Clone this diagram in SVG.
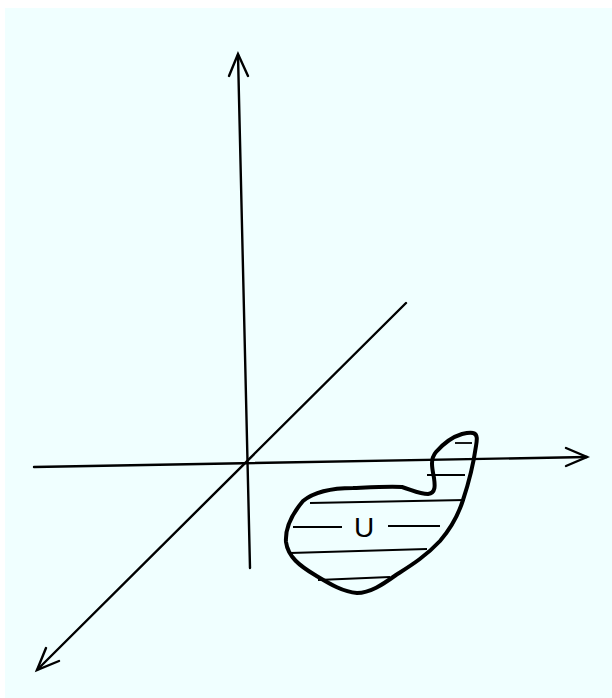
<svg xmlns="http://www.w3.org/2000/svg" width="612" height="698" viewBox="0 0 612 698">
<style>
.ax{stroke:#000;stroke-width:2.4;fill:none;stroke-linecap:round}
.hd{stroke:#000;stroke-width:2.4;fill:none;stroke-linecap:round;stroke-linejoin:miter}
.ht{stroke:#000;stroke-width:1.8;fill:none}
.bl{stroke:#000;stroke-width:4;fill:none;stroke-linejoin:round}
.lb{font-family:"Liberation Sans",Arial,sans-serif;font-size:28px;fill:#000}
</style>
<rect x="5" y="8" width="607" height="690" fill="#f0ffff"/>
<g id="connectors">
<path class="ax" d="M250 568 L238 55"/>
<path class="hd" d="M229 76 L238 54 L248 76"/>
<path class="ax" d="M34 467 L587 457"/>
<path class="hd" d="M566 448 L587 457 L566 466"/>
<path class="ax" d="M406 303 L37 670"/>
<path class="hd" d="M46 648 L37 670 L59 661"/>
</g>
<g id="U">
<path class="ht" d="M455 443 L472 443"/>
<path class="ht" d="M427 475 L465 475"/>
<path class="ht" d="M310 503 L465 500"/>
<path class="ht" d="M293 527 L342 527"/>
<path class="ht" d="M388 526 L440 526"/>
<path class="ht" d="M290 553 L427 549"/>
<path class="ht" d="M318 580 L390 577"/>
<path class="bl" d="M473 433 C478 434 477 440 476 446 C474 460 468 485 463 500 C458 516 452 527 440 541 C425 557 410 566 396 575 C382 585 370 593 357 593 C343 592 330 584 315 575 C300 566 288 557 286 542 C285 528 292 514 303 501 C314 492 330 488 353 488 C375 487 392 486 402 487 C412 490 420 494 428 494 C436 493 435 485 434 478 C432 468 430 459 436 452 C443 444 452 437 462 434 C466 433 470 432 473 433 Z"/>
<text class="lb" x="364" y="537" text-anchor="middle">U</text>
</g>
</svg>
